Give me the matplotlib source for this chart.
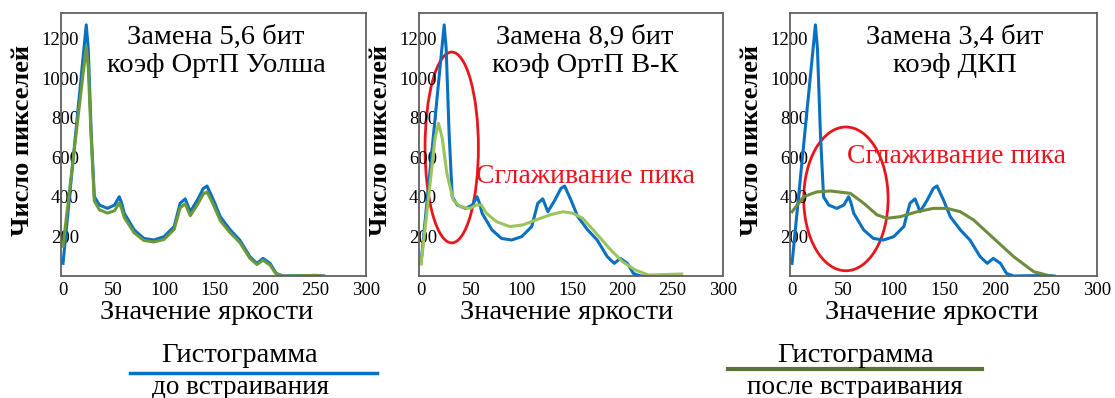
import matplotlib.pyplot as plt
from matplotlib.patches import Ellipse
from matplotlib.lines import Line2D

plt.rcParams['font.family'] = ['Liberation Serif', 'DejaVu Serif']

# Original histogram (before embedding), same in all panels
x_blue = [0, 23, 25, 27.9, 31, 36, 44, 51, 55.7, 58, 60.7, 70.5, 80, 90, 100, 110,
          116, 121, 126, 133, 139, 142.6, 149, 155.7, 165.6, 175, 185, 192, 198,
          205, 211, 218, 251, 258]
y_blue = [64, 1270, 1150, 722, 401, 359, 342, 359, 401, 370, 317, 233, 190, 182, 199,
          250, 368, 390, 325, 384, 443, 455, 384, 300, 233, 182, 98, 64, 89,
          64, 13, 0, 3, 0]

# After embedding: 5,6 bit, Walsh coefficients
x_g1 = x_blue
y_g1 = [150, 1160, 1050, 700, 380, 335, 318, 330, 370, 340, 295, 218, 180, 172, 185,
        235, 345, 365, 305, 360, 415, 425, 360, 280, 218, 170, 90, 58, 80,
        55, 10, 0, 3, 0]

# After embedding: 8,9 bit, B-K coefficients
x_g2 = [0, 8, 14, 17.4, 21, 25.7, 32, 38.8, 48.7, 55, 60, 65, 75, 88, 101, 114, 128,
        141, 151, 160.5, 174, 187, 200, 213, 226, 259]
y_g2 = [60, 420, 700, 772, 700, 519, 384, 351, 342, 359, 359, 317, 275, 250, 258,
        283, 309, 325, 317, 292, 216, 140, 73, 30, 5, 10]

# After embedding: 3,4 bit, DCT coefficients
x_g3 = [0, 11.5, 24, 37.7, 57.4, 70.5, 83.6, 93.4, 106.6, 123, 139, 152.5, 165.6,
        178.7, 198.4, 218, 237.7, 254]
y_g3 = [325, 401, 425, 430, 418, 368, 309, 292, 300, 325, 342, 342, 325,
        283, 190, 98, 22, 0]

titles = ['Замена 5,6 бит\nкоэф ОртП Уолша',
          'Замена 8,9 бит\nкоэф ОртП В-К',
          'Замена 3,4 бит\nкоэф ДКП']
greens = [(x_g1, y_g1, '#6b9a3a'), (x_g2, y_g2, '#9cc45e'), (x_g3, y_g3, '#6e8c3e')]
xticks = [0, 50, 100, 150, 200, 250, 300]
yticks = [200, 400, 600, 800, 1000, 1200]

W, H = 1115, 398
fig = plt.figure(figsize=(W / 100, H / 100), dpi=100)

boxes = [(61, 366), (419, 723), (790, 1097)]
title_x = [0.508, 0.546, 0.537]
xlab_x = [0.479, 0.487, 0.4625]
axes = []
for i, (l, r) in enumerate(boxes):
    ax = fig.add_axes([l / W, (H - 276) / H, (r - l) / W, 263 / H])
    axes.append(ax)
    xg, yg, cg = greens[i]
    ax.plot(x_blue, y_blue, color='#0a70c0', lw=2.2, solid_joinstyle='round')
    ax.plot(xg, yg, color=cg, lw=2.2, solid_joinstyle='round')
    ax.set_xlim(-2, 300)
    ax.set_ylim(0, 1330)
    ax.set_xticks(xticks)
    ax.set_yticks(yticks)
    ax.tick_params(axis='x', length=0, pad=4, labelsize=13.5)
    ax.tick_params(axis='y', length=0, pad=-13, labelsize=13.5)
    for s in ax.spines.values():
        s.set_color('#606060')
        s.set_linewidth(1.3)
    ax.text(title_x[i], 0.854, titles[i], transform=ax.transAxes,
            ha='center', va='center', fontsize=20.5, linespacing=1.15)
    ax.text(xlab_x[i], -0.137, 'Значение яркости', transform=ax.transAxes,
            ha='center', va='center', fontsize=20.5)
    ax.text(-0.127, 0.517, 'Число пикселей', transform=ax.transAxes,
            ha='center', va='center', fontsize=19, rotation=90,
            fontweight='bold')

# Red ellipses and notes
axes[1].add_patch(Ellipse((30.5, 650), 53, 965, fill=False, ec='#e8161b', lw=2))
axes[1].text(55, 503, 'Сглаживание пика', color='#e8161b', fontsize=20,
             ha='left', va='center')
axes[2].add_patch(Ellipse((53, 390), 83, 727, fill=False, ec='#e8161b', lw=2))
axes[2].text(54, 603, 'Сглаживание пика', color='#e8161b', fontsize=20,
             ha='left', va='center')

# Bottom legend
fig.text(239 / W, 1 - 355 / H, 'Гистограмма', ha='center', va='center', fontsize=20.5)
fig.text(240 / W, 1 - 387 / H, 'до встраивания', ha='center', va='center', fontsize=19.5)
fig.add_artist(Line2D([130 / W, 377 / W], [1 - 373 / H, 1 - 373 / H],
                      color='#0a70c0', lw=2.5))
fig.text(855 / W, 1 - 355 / H, 'Гистограмма', ha='center', va='center', fontsize=20.5)
fig.text(855 / W, 1 - 387 / H, 'после встраивания', ha='center', va='center', fontsize=19.5)
fig.add_artist(Line2D([728 / W, 982 / W], [1 - 369 / H, 1 - 369 / H],
                      color='#5a7533', lw=3))

fig.savefig('out.png', dpi=100)
